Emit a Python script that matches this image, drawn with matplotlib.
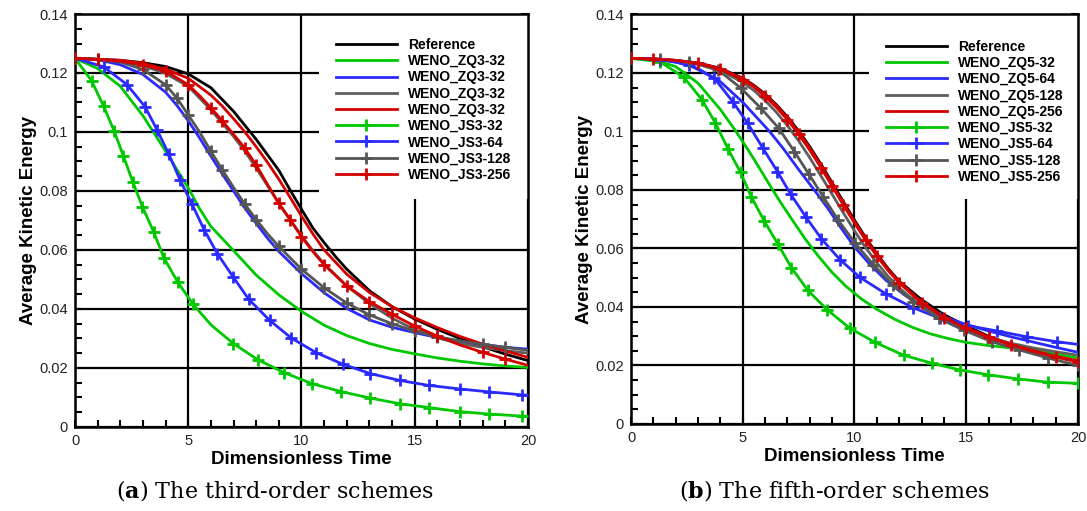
import matplotlib
matplotlib.use('Agg')
import matplotlib.pyplot as plt
from matplotlib.patches import Rectangle
from matplotlib.ticker import MultipleLocator, FormatStrFormatter

plt.rcParams['font.family'] = ['Liberation Sans', 'DejaVu Sans']
plt.rcParams['mathtext.fontset'] = 'dejavuserif'


# ---- (a) third-order schemes ----

t_ref3 = [0, 2, 3, 4, 5, 6, 7, 8, 9, 9.5, 10, 10.5, 11, 11.5, 12, 13, 14, 15, 16, 17, 18, 19, 20]
ref3 = [0.125, 0.1243, 0.1235, 0.1222, 0.1197, 0.1150, 0.1070, 0.0975, 0.0870, 0.0803, 0.0738, 0.0675,
        0.0625, 0.0578, 0.0535, 0.0462, 0.0408, 0.0366, 0.0331, 0.0300, 0.0272, 0.0247, 0.0225]

t_zq3_32 = [0, 1, 2, 3, 4, 5, 5.5, 6, 7, 8, 9, 10, 11, 12, 13, 14, 15, 16, 17, 18, 19, 20]
zq3_32 = [0.125, 0.1215, 0.1155, 0.1055, 0.0935, 0.081, 0.074, 0.068, 0.0598, 0.0515, 0.0448, 0.0392,
          0.0345, 0.0310, 0.0283, 0.0263, 0.0248, 0.0234, 0.0223, 0.0214, 0.0207, 0.0202]

t_zq3_64 = [0, 1, 2, 3, 4, 4.5, 5, 5.5, 6, 6.5, 7, 7.5, 8, 8.5, 9, 10, 11, 12, 13, 14, 15, 16, 17, 18, 19, 20]
zq3_64 = [0.125, 0.1245, 0.1228, 0.1195, 0.1135, 0.109, 0.1038, 0.098, 0.0918, 0.0858, 0.0800, 0.0742,
          0.0690, 0.0640, 0.0595, 0.0520, 0.0455, 0.0402, 0.0363, 0.0338, 0.0320, 0.0303, 0.0290, 0.0280,
          0.0270, 0.0264]

t_zq3_128 = [0, 2, 3, 4, 5, 6, 7, 7.5, 8, 8.5, 9, 9.5, 10, 10.5, 11, 12, 13, 14, 15, 16, 17, 18, 19, 20]
zq3_128 = [0.125, 0.1238, 0.1225, 0.1198, 0.1155, 0.1075, 0.0985, 0.0935, 0.0878, 0.0818, 0.0758, 0.0702,
           0.0648, 0.0598, 0.0553, 0.0478, 0.0418, 0.0369, 0.0330, 0.0302, 0.0283, 0.0270, 0.0259, 0.0250]

t_zq3_256 = [0, 2, 3, 4, 5, 6, 6.5, 7, 7.5, 8, 8.5, 9, 9.5, 10, 10.5, 11, 12, 13, 14, 15, 16, 17, 18, 19, 20]
zq3_256 = [0.125, 0.1243, 0.1233, 0.1213, 0.1182, 0.1125, 0.1088, 0.1045, 0.1000, 0.0950, 0.0897, 0.0840,
           0.0778, 0.0715, 0.0655, 0.0600, 0.0518, 0.0456, 0.0408, 0.0370, 0.0337, 0.0307, 0.0281, 0.0258,
           0.0236]

t_js3_32 = [0, 0.73, 1.26, 1.73, 2.14, 2.55, 2.98, 3.47, 3.92, 4.53, 5.21, 6.02, 6.99, 8.07, 9.24, 10.46,
            11.75, 13.04, 14.33, 15.62, 16.99, 18.28, 19.73, 20]
js3_32 = [0.125, 0.1174, 0.1088, 0.1003, 0.0918, 0.0831, 0.0746, 0.0662, 0.0574, 0.0492, 0.0416, 0.0345,
          0.0283, 0.0228, 0.0184, 0.0147, 0.0120, 0.0098, 0.0079, 0.0066, 0.0052, 0.0044, 0.0037, 0.0036]

t_js3_64 = [0, 1.26, 2.29, 3.09, 3.63, 4.15, 4.64, 5.17, 5.70, 6.28, 6.98, 7.67, 8.59, 9.54, 10.65, 11.82,
            13.04, 14.33, 15.62, 16.99, 18.28, 19.73, 20]
js3_64 = [0.125, 0.1221, 0.1161, 0.1086, 0.1006, 0.0924, 0.0837, 0.0755, 0.0669, 0.0588, 0.0509, 0.0433,
          0.0362, 0.0302, 0.0252, 0.0213, 0.0181, 0.0158, 0.0141, 0.0129, 0.0119, 0.0109, 0.0108]

t_js3_128 = [0, 1, 2, 3, 4, 4.5, 5, 5.5, 6, 6.5, 7, 7.5, 8, 8.5, 9, 10, 11, 12, 13, 14, 15, 16, 17, 18, 19, 20]
js3_128 = [0.125, 0.1247, 0.1237, 0.1212, 0.1160, 0.1115, 0.1058, 0.1000, 0.0935, 0.0872, 0.0812, 0.0755,
           0.0703, 0.0655, 0.0612, 0.0535, 0.0472, 0.0420, 0.0380, 0.0350, 0.0325, 0.0306, 0.0292, 0.0280,
           0.0270, 0.0260]

t_js3_256 = [0, 1, 2, 3, 4, 5, 5.5, 6, 6.5, 7, 7.5, 8, 8.5, 9, 9.5, 10, 10.5, 11, 12, 13, 14, 15, 16, 17,
             18, 19, 20]
js3_256 = [0.125, 0.1246, 0.1240, 0.1228, 0.1207, 0.1160, 0.1123, 0.1082, 0.1038, 0.0992, 0.0945, 0.0888,
           0.0822, 0.0758, 0.0703, 0.0645, 0.0595, 0.0550, 0.0478, 0.0425, 0.0382, 0.0342, 0.0308, 0.0278,
           0.0253, 0.0230, 0.0209]

labels_a = ['Reference', 'WENO_ZQ3-32', 'WENO_ZQ3-32', 'WENO_ZQ3-32', 'WENO_ZQ3-32',
            'WENO_JS3-32', 'WENO_JS3-64', 'WENO_JS3-128', 'WENO_JS3-256']


# ---- (b) fifth-order schemes ----

t_ref5 = [0, 1, 2, 3, 4, 5, 5.5, 6, 6.5, 7, 7.5, 8, 8.5, 9, 9.5, 10, 10.5, 11, 11.5, 12, 13, 14, 15, 16,
          17, 18, 19, 20]
ref5 = [0.125, 0.1248, 0.1243, 0.1234, 0.1216, 0.1182, 0.1158, 0.1128, 0.1092, 0.1050, 0.1002, 0.0948,
        0.0888, 0.0825, 0.0760, 0.0697, 0.0637, 0.0582, 0.0532, 0.0488, 0.0425, 0.0374, 0.0335, 0.0300,
        0.0272, 0.0249, 0.0230, 0.0213]

t_zq5_32 = [0, 1, 2, 3, 4, 4.7, 5.3, 5.8, 6.3, 6.8, 7.3, 7.8, 8.4, 9.0, 9.6, 10.3, 11.0, 11.8, 12.6, 13.4,
            14.2, 15.0, 16.0, 17.0, 18.0, 19.0, 20]
zq5_32 = [0.125, 0.1245, 0.1222, 0.1165, 0.1075, 0.1000, 0.0930, 0.0868, 0.0805, 0.0745, 0.0688, 0.0632,
          0.0572, 0.0518, 0.0472, 0.0428, 0.0392, 0.0358, 0.0330, 0.0308, 0.0292, 0.0279, 0.0268, 0.0260,
          0.0252, 0.0240, 0.0225]

t_zq5_64 = [0, 1, 2, 3, 4, 5, 5.6, 6.2, 6.8, 7.5, 8.2, 8.8, 9.4, 10.0, 10.7, 11.4, 12.2, 13.1, 14.0, 15.0,
            16.0, 17.0, 18.0, 19.0, 20]
zq5_64 = [0.125, 0.1248, 0.1238, 0.1215, 0.1170, 0.1100, 0.1050, 0.1000, 0.0943, 0.0870, 0.0800, 0.0738,
          0.0670, 0.0605, 0.0545, 0.0492, 0.0443, 0.0400, 0.0367, 0.0340, 0.0318, 0.0298, 0.0280, 0.0262,
          0.0245]

t_zq5_128 = t_ref5
zq5_128 = [0.125, 0.1248, 0.1242, 0.1230, 0.1208, 0.1168, 0.1140, 0.1106, 0.1066, 0.1020, 0.0968, 0.0910,
           0.0848, 0.0785, 0.0722, 0.0660, 0.0603, 0.0551, 0.0505, 0.0465, 0.0402, 0.0357, 0.0323, 0.0297,
           0.0276, 0.0260, 0.0247, 0.0235]

t_zq5_256 = t_ref5
zq5_256 = [0.125, 0.1248, 0.1243, 0.1234, 0.1215, 0.1180, 0.1156, 0.1125, 0.1089, 0.1046, 0.0997, 0.0943,
           0.0883, 0.0820, 0.0755, 0.0692, 0.0633, 0.0578, 0.0529, 0.0486, 0.0417, 0.0366, 0.0329, 0.0298,
           0.0272, 0.0251, 0.0232, 0.0216]

t_js5_32 = [0, 1.3, 2.37, 3.18, 3.78, 4.35, 4.9, 5.38, 5.96, 6.58, 7.18, 7.91, 8.77, 9.78, 10.92, 12.2,
            13.45, 14.7, 15.99, 17.32, 18.64, 20]
js5_32 = [0.125, 0.1238, 0.1185, 0.1108, 0.1028, 0.0939, 0.0860, 0.0777, 0.0694, 0.0614, 0.0534, 0.0457,
          0.0391, 0.0328, 0.0279, 0.0235, 0.0208, 0.0185, 0.0168, 0.0154, 0.0143, 0.0139]

t_js5_64 = [0, 1.3, 2.6, 3.73, 4.55, 5.22, 5.9, 6.55, 7.14, 7.84, 8.52, 9.36, 10.25, 11.4, 12.64, 13.83,
            15.1, 16.37, 17.71, 19.06, 20]
js5_64 = [0.125, 0.1246, 0.1228, 0.1182, 0.1102, 0.1028, 0.0943, 0.0863, 0.0786, 0.0706, 0.0633, 0.0561,
          0.0501, 0.0445, 0.0397, 0.0361, 0.0336, 0.0318, 0.0298, 0.0281, 0.0272]

t_js5_128 = [0, 1.3, 2.6, 3.9, 4.92, 5.82, 6.61, 7.31, 7.95, 8.6, 9.27, 10.03, 10.85, 11.71, 12.64, 13.76,
             14.88, 16.15, 17.38, 18.68, 20]
js5_128 = [0.125, 0.1247, 0.1238, 0.1210, 0.1148, 0.1079, 0.1011, 0.0931, 0.0855, 0.0777, 0.0697, 0.0618,
           0.0544, 0.0475, 0.0418, 0.0361, 0.0321, 0.0281, 0.0253, 0.0225, 0.0200]

t_js5_256 = t_ref5
js5_256 = [0.125, 0.1248, 0.1243, 0.1233, 0.1213, 0.1177, 0.1152, 0.1120, 0.1083, 0.1040, 0.0991, 0.0936,
           0.0876, 0.0813, 0.0749, 0.0687, 0.0628, 0.0574, 0.0525, 0.0482, 0.0414, 0.0364, 0.0327, 0.0296,
           0.0270, 0.0248, 0.0229, 0.0212]

labels_b = ['Reference', 'WENO_ZQ5-32', 'WENO_ZQ5-64', 'WENO_ZQ5-128', 'WENO_ZQ5-256',
            'WENO_JS5-32', 'WENO_JS5-64', 'WENO_JS5-128', 'WENO_JS5-256']

colors = ['#000000', '#00c800', '#2a2aff', '#5e5e5e', '#d40000',
          '#00c800', '#2a2aff', '#555555', '#d40000']


def panel(ax, series, labels, cover, leg_xy, caption, cap_x):
    ax.set_axisbelow(True)
    ax.grid(True, which='major', color='black', linewidth=1.6)
    # white box behind the legend hides part of the grid
    ax.add_patch(Rectangle(cover, 1 - cover[0], 1 - cover[1], transform=ax.transAxes,
                           facecolor='white', edgecolor='none', zorder=1))
    for i, (t, v) in enumerate(series):
        if i < 5:
            ax.plot(t, v, color=colors[i], lw=2.0, label=labels[i], zorder=3)
        else:
            ax.plot(t, v, color=colors[i], lw=2.0, marker='+', ms=9, mew=2.0,
                    markevery=0.047, label=labels[i], zorder=3)

    ax.set_xlim(0, 20)
    ax.set_ylim(0, 0.14)
    ax.xaxis.set_major_locator(MultipleLocator(5))
    ax.xaxis.set_minor_locator(MultipleLocator(1))
    ax.yaxis.set_major_locator(MultipleLocator(0.02))
    ax.yaxis.set_minor_locator(MultipleLocator(0.005))
    ax.yaxis.set_major_formatter(FormatStrFormatter('%g'))
    ax.tick_params(which='both', direction='in', labelsize=10.5, labelcolor='#222222', width=1.5)
    ax.tick_params(which='major', length=5, right=True, pad=5)
    ax.tick_params(which='minor', length=5)
    for s in ax.spines.values():
        s.set_linewidth(1.8)

    ax.set_xlabel('Dimensionless Time', fontsize=13.5, fontweight='bold', labelpad=2)
    ax.set_ylabel('Average Kinetic Energy', fontsize=13.5, fontweight='bold', labelpad=2)

    ax.legend(loc='upper left', bbox_to_anchor=leg_xy, frameon=False, borderpad=0,
              borderaxespad=0, handlelength=4.4, handletextpad=0.8, labelspacing=0.16,
              prop={'weight': 'bold', 'size': 10})

    fig.text(cap_x, 0.04, caption, ha='center', va='center', fontsize=16, family='DejaVu Serif')


fig = plt.figure(figsize=(10.87, 5.11), dpi=100)
ax1 = fig.add_axes([0.0690, 0.1644, 0.4167, 0.8082])
ax2 = fig.add_axes([0.5805, 0.1703, 0.4112, 0.8014])

series_a = [(t_ref3, ref3), (t_zq3_32, zq3_32), (t_zq3_64, zq3_64), (t_zq3_128, zq3_128),
            (t_zq3_256, zq3_256), (t_js3_32, js3_32), (t_js3_64, js3_64), (t_js3_128, js3_128),
            (t_js3_256, js3_256)]
series_b = [(t_ref5, ref5), (t_zq5_32, zq5_32), (t_zq5_64, zq5_64), (t_zq5_128, zq5_128),
            (t_zq5_256, zq5_256), (t_js5_32, js5_32), (t_js5_64, js5_64), (t_js5_128, js5_128),
            (t_js5_256, js5_256)]

panel(ax1, series_a, labels_a, (0.539, 0.552), (0.576, 0.942),
      r'($\mathbf{a}$) The third-order schemes', 0.253)
panel(ax2, series_b, labels_b, (0.532, 0.549), (0.570, 0.938),
      r'($\mathbf{b}$) The fifth-order schemes', 0.768)

fig.savefig('out.png', dpi=100)
